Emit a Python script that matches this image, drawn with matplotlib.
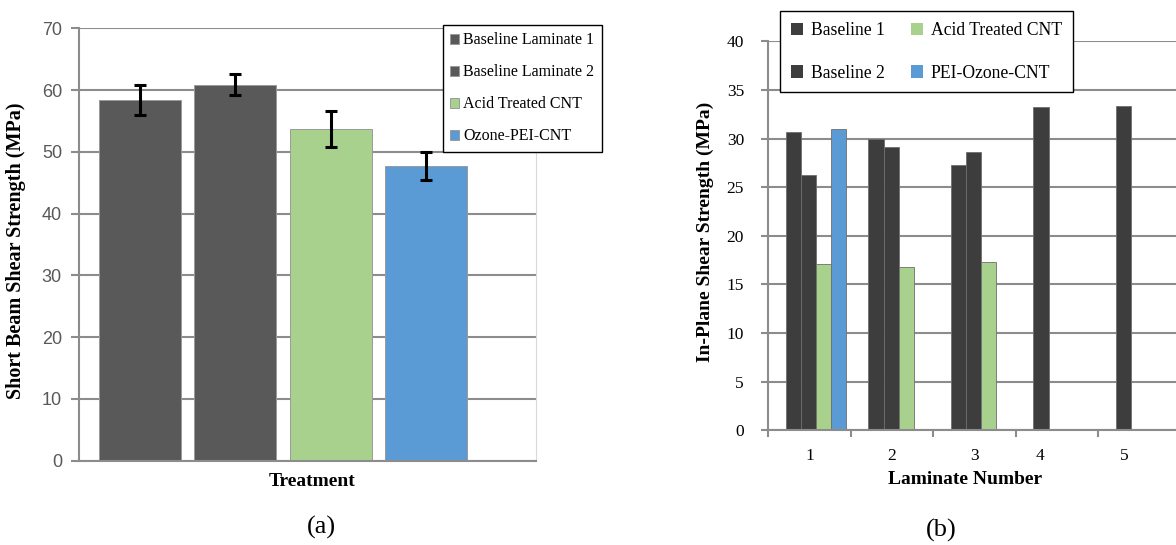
import matplotlib
matplotlib.use("Agg")
import matplotlib.pyplot as plt
import numpy as np

# (a) short beam shear
treatments = ["Baseline Laminate 1", "Baseline Laminate 2", "Acid Treated CNT", "Ozone-PEI-CNT"]
sbs_mean = [58.4, 60.9, 53.7, 47.7]
sbs_err = [2.4, 1.65, 2.9, 2.3]
sbs_colors = ["#595959", "#595959", "#a9d18e", "#5b9bd5"]

# (b) in-plane shear, per laminate
laminates = [1, 2, 3, 4, 5]
baseline1 = [30.7, 29.95, 27.25, 33.28, 33.35]
baseline2 = [26.25, 29.13, 28.62, np.nan, np.nan]
acid_cnt = [17.07, 16.79, 17.28, np.nan, np.nan]
pei_cnt = [30.98, np.nan, np.nan, np.nan, np.nan]
ips_names = ["Baseline 1", "Baseline 2", "Acid Treated CNT", "PEI-Ozone-CNT"]
ips_colors = ["#3d3d3d", "#3d3d3d", "#a9d18e", "#5b9bd5"]
xlabel_pos = [1.0, 2.0, 3.0, 3.79, 4.81]

serif = "Liberation Serif"
grid_c = "#8c8c8c"
W, H = 1176, 545

fig = plt.figure(figsize=(11.76, 5.45), dpi=100)

def fx(px):
    return px / W

def fy(py):
    return 1 - py / H

# ---------------- panel (a) ----------------
ax1 = fig.add_axes([fx(79.3), fy(460.7), fx(536) - fx(79.3), fy(28.3) - fy(460.7)])
pos = np.arange(len(treatments))
for i in range(len(treatments)):
    ax1.bar(pos[i], sbs_mean[i], width=0.86, color=sbs_colors[i], edgecolor="#9a9a9a",
            linewidth=0.7, label=treatments[i], zorder=2)
ax1.errorbar(pos, sbs_mean, yerr=sbs_err, fmt="none", ecolor="black", elinewidth=2.2,
             capsize=4.5, capthick=2.2, zorder=3)
ax1.set_xlim(-0.632, 4.15)
ax1.set_ylim(0, 70)
ax1.set_yticks(np.arange(0, 71, 10))
ax1.set_xticks([])
ax1.yaxis.grid(True, color=grid_c, linewidth=1.5)
ax1.set_axisbelow(True)
ax1.spines["top"].set_visible(False)
ax1.spines["right"].set_color("#d9d9d9")
ax1.spines["right"].set_linewidth(0.8)
for s in ["left", "bottom"]:
    ax1.spines[s].set_color(grid_c)
    ax1.spines[s].set_linewidth(1.5)
ax1.tick_params(axis="y", direction="out", length=5.5, width=1.5, color=grid_c, pad=7,
                labelsize=13, labelcolor="#595959")
for t in ax1.get_yticklabels():
    t.set_fontfamily("Liberation Sans")
ax1.set_ylabel("Short Beam Shear Strength (MPa)", fontfamily=serif, fontweight="bold",
               fontsize=14.5, va="center")
ax1.yaxis.set_label_coords(-0.1386, 0.485)
ax1.set_xlabel("Treatment", fontfamily=serif, fontweight="bold", fontsize=14, va="center")
ax1.xaxis.set_label_coords(0.509, -0.0486)

leg1 = ax1.legend(loc="upper left", bbox_to_anchor=(fx(442.7), fy(25.3)),
                  bbox_transform=fig.transFigure, borderaxespad=0, frameon=True,
                  fancybox=False, framealpha=1, edgecolor="black",
                  prop={"family": serif, "size": 11.5}, labelspacing=1.0,
                  handlelength=0.55, handleheight=0.55, handletextpad=0.3, borderpad=0.45)
leg1.get_frame().set_linewidth(1.0)

# ---------------- panel (b) ----------------
ax2 = fig.add_axes([fx(768.3), fy(430.3), fx(1180.8) - fx(768.3), fy(41.3) - fy(430.3)])
x = np.array(laminates, dtype=float)
series = [baseline1, baseline2, acid_cnt, pei_cnt]
bw = 0.183
for k, vals in enumerate(series):
    ax2.bar(x - 0.195 + k * bw, vals, width=bw, color=ips_colors[k], edgecolor="#6e6e6e",
            linewidth=0.6, label=ips_names[k], zorder=2)
ax2.set_xlim(0.5, 5.5)
ax2.set_ylim(0, 40)
ax2.set_yticks(np.arange(0, 41, 5))
ax2.set_xticks(np.arange(0.5, 5.6, 1.0))
ax2.set_xticklabels([])
ax2.set_xticks(xlabel_pos, minor=True)
ax2.set_xticklabels([str(v) for v in laminates], minor=True, fontfamily=serif, fontsize=12.5)
ax2.tick_params(axis="x", which="minor", length=0, pad=13)
ax2.tick_params(axis="x", which="major", direction="out", length=5, width=1.5, color=grid_c)
ax2.tick_params(axis="y", direction="out", length=5, width=1.5, color=grid_c, pad=12.5,
                labelsize=12.5)
for t in ax2.get_yticklabels():
    t.set_fontfamily(serif)
ax2.yaxis.grid(True, color=grid_c, linewidth=1.5)
ax2.set_axisbelow(True)
ax2.spines["top"].set_visible(False)
ax2.spines["right"].set_visible(False)
for s in ["left", "bottom"]:
    ax2.spines[s].set_color(grid_c)
    ax2.spines[s].set_linewidth(1.5)
ax2.set_ylabel("In-Plane Shear Strength (MPa)", fontfamily=serif, fontweight="bold",
               fontsize=14, va="center")
ax2.yaxis.set_label_coords(-0.1535, 0.51)
ax2.set_xlabel("Laminate Number", fontfamily=serif, fontweight="bold", fontsize=14, va="center")
ax2.xaxis.set_label_coords(0.476, -0.126)

leg2 = ax2.legend(loc="upper left", bbox_to_anchor=(fx(780), fy(11)),
                  bbox_transform=fig.transFigure, borderaxespad=0, ncol=2, frameon=True,
                  fancybox=False, framealpha=1, edgecolor="black",
                  prop={"family": serif, "size": 12.7}, labelspacing=1.45,
                  handlelength=0.7, handleheight=0.7, handletextpad=0.42,
                  columnspacing=1.5, borderpad=0.62)
leg2.get_frame().set_linewidth(1.0)
for h in leg2.legend_handles:
    h.set_edgecolor("none")

fig.text(fx(321), fy(527), "(a)", fontfamily=serif, fontsize=19, ha="center", va="center")
fig.text(fx(941), fy(530), "(b)", fontfamily=serif, fontsize=19, ha="center", va="center")

fig.savefig("out.png", dpi=100)
